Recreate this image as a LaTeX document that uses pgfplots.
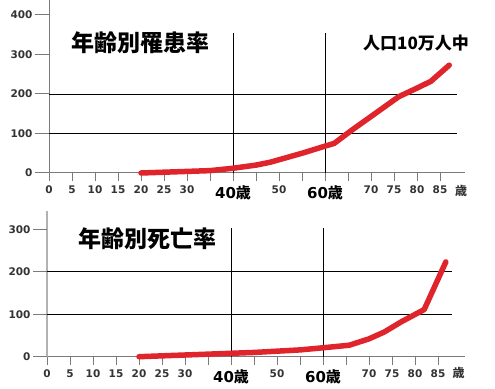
\documentclass[border=0pt]{standalone}
\usepackage{fontspec}
\setmainfont{DejaVu Sans}
\newfontfamily\jp{Noto Sans CJK JP}
\usepackage{pgfplots}
\pgfplotsset{compat=1.18}
\definecolor{myred}{HTML}{E0242C}
\definecolor{axgray}{HTML}{7A7A7A}
\definecolor{lblgray}{HTML}{333333}
\begin{document}
\begin{tikzpicture}[x=1pt,y=1pt]
\useasboundingbox (0,0) rectangle (495,388);
\pgfplotsset{mystyle/.style={
  axis lines=left, axis line style={-, axgray, line width=1pt},
  xmin=0, ymin=0, x=4.6pt,
  xtick={0,5,...,85},
  xticklabels={0,5,10,15,20,25,30,,{\fontsize{15}{16}\selectfont\color{black}40\jp 歳},,50,,{\fontsize{15}{16}\selectfont\color{black}60\jp 歳},,70,75,80,85},
  tick align=outside, major tick length=8pt,
  xtick style={axgray, line width=1pt},
  ytick style={draw=none},
  ticklabel style={font=\bfseries\fontsize{10.5}{12}\selectfont, text=lblgray},
  xticklabel style={yshift=-1.5pt},
  yticklabel style={xshift=-5pt},
  /pgf/number format/assume math mode=true,
  clip=false,
}}
% ---------- top chart ----------
\begin{axis}[mystyle, at={(49pt,215pt)}, anchor=south west,
  y=0.395pt, xmax=90.4, ymax=438, ytick={0,100,200,300,400}]
\addplot[black, line width=0.8pt] coordinates {(0,100) (88.6,100)};
\addplot[black, line width=0.8pt] coordinates {(0,200) (88.6,200)};
\draw[black, line width=0.8pt] (axis cs:40,0) -- (axis cs:40,354);
\draw[black, line width=0.8pt] (axis cs:60,0) -- (axis cs:60,354);
\pgfplotsinvokeforeach{0,100,200,300,400}{\draw[axgray,line width=1pt] (axis cs:0,#1) -- ++(-14pt,0);}
\addplot[myred, line width=5.5pt, line cap=round, line join=round] coordinates {
(20,0) (25,2) (30,4) (35,6) (40,12) (45,20) (48,27) (55,50) (60,68) (62,75)
(66,110) (70,143) (76,193) (80,215) (83,232) (87,273)};
\node[text=lblgray, font=\jp\bfseries\fontsize{12}{12}\selectfont] at ([yshift=-18pt]axis cs:89.6,0) {歳};
\end{axis}
% ---------- bottom chart ----------
\begin{axis}[mystyle, at={(47pt,31.3pt)}, anchor=south west,
  y=0.425pt, xmax=90.9, ymax=343, ytick={0,100,200,300},
  y axis line style={line width=2pt, color=gray!60}]
\addplot[black, line width=0.8pt] coordinates {(0,100) (88,100)};
\addplot[black, line width=0.8pt] coordinates {(0,200) (88,200)};
\draw[black, line width=0.8pt] (axis cs:40,0) -- (axis cs:40,303);
\draw[black, line width=0.8pt] (axis cs:60,0) -- (axis cs:60,303);
\pgfplotsinvokeforeach{0,100,200,300}{\draw[axgray,line width=1pt] (axis cs:0,#1) -- ++(-14pt,0);}
\addplot[myred, line width=5.5pt, line cap=round, line join=round] coordinates {
(20,0) (25,2) (30,4) (35,6) (40,8) (45,10) (50,13) (55,16) (60,21) (65.7,27)
(70,42) (73.3,58) (77,82) (82,111) (86.7,223)};
\node[text=lblgray, font=\jp\bfseries\fontsize{12}{12}\selectfont] at ([yshift=-16pt]axis cs:89.5,0) {歳};
\end{axis}
% ---------- titles ----------
\node[font=\jp\bfseries\fontsize{23}{24}\selectfont] at (140,345) {年齢別罹患率};
\node[font=\jp\bfseries\fontsize{17}{18}\selectfont] at (416,345) {人口10万人中};
\node[font=\jp\bfseries\fontsize{23}{24}\selectfont] at (147,149) {年齢別死亡率};
\end{tikzpicture}
\end{document}
